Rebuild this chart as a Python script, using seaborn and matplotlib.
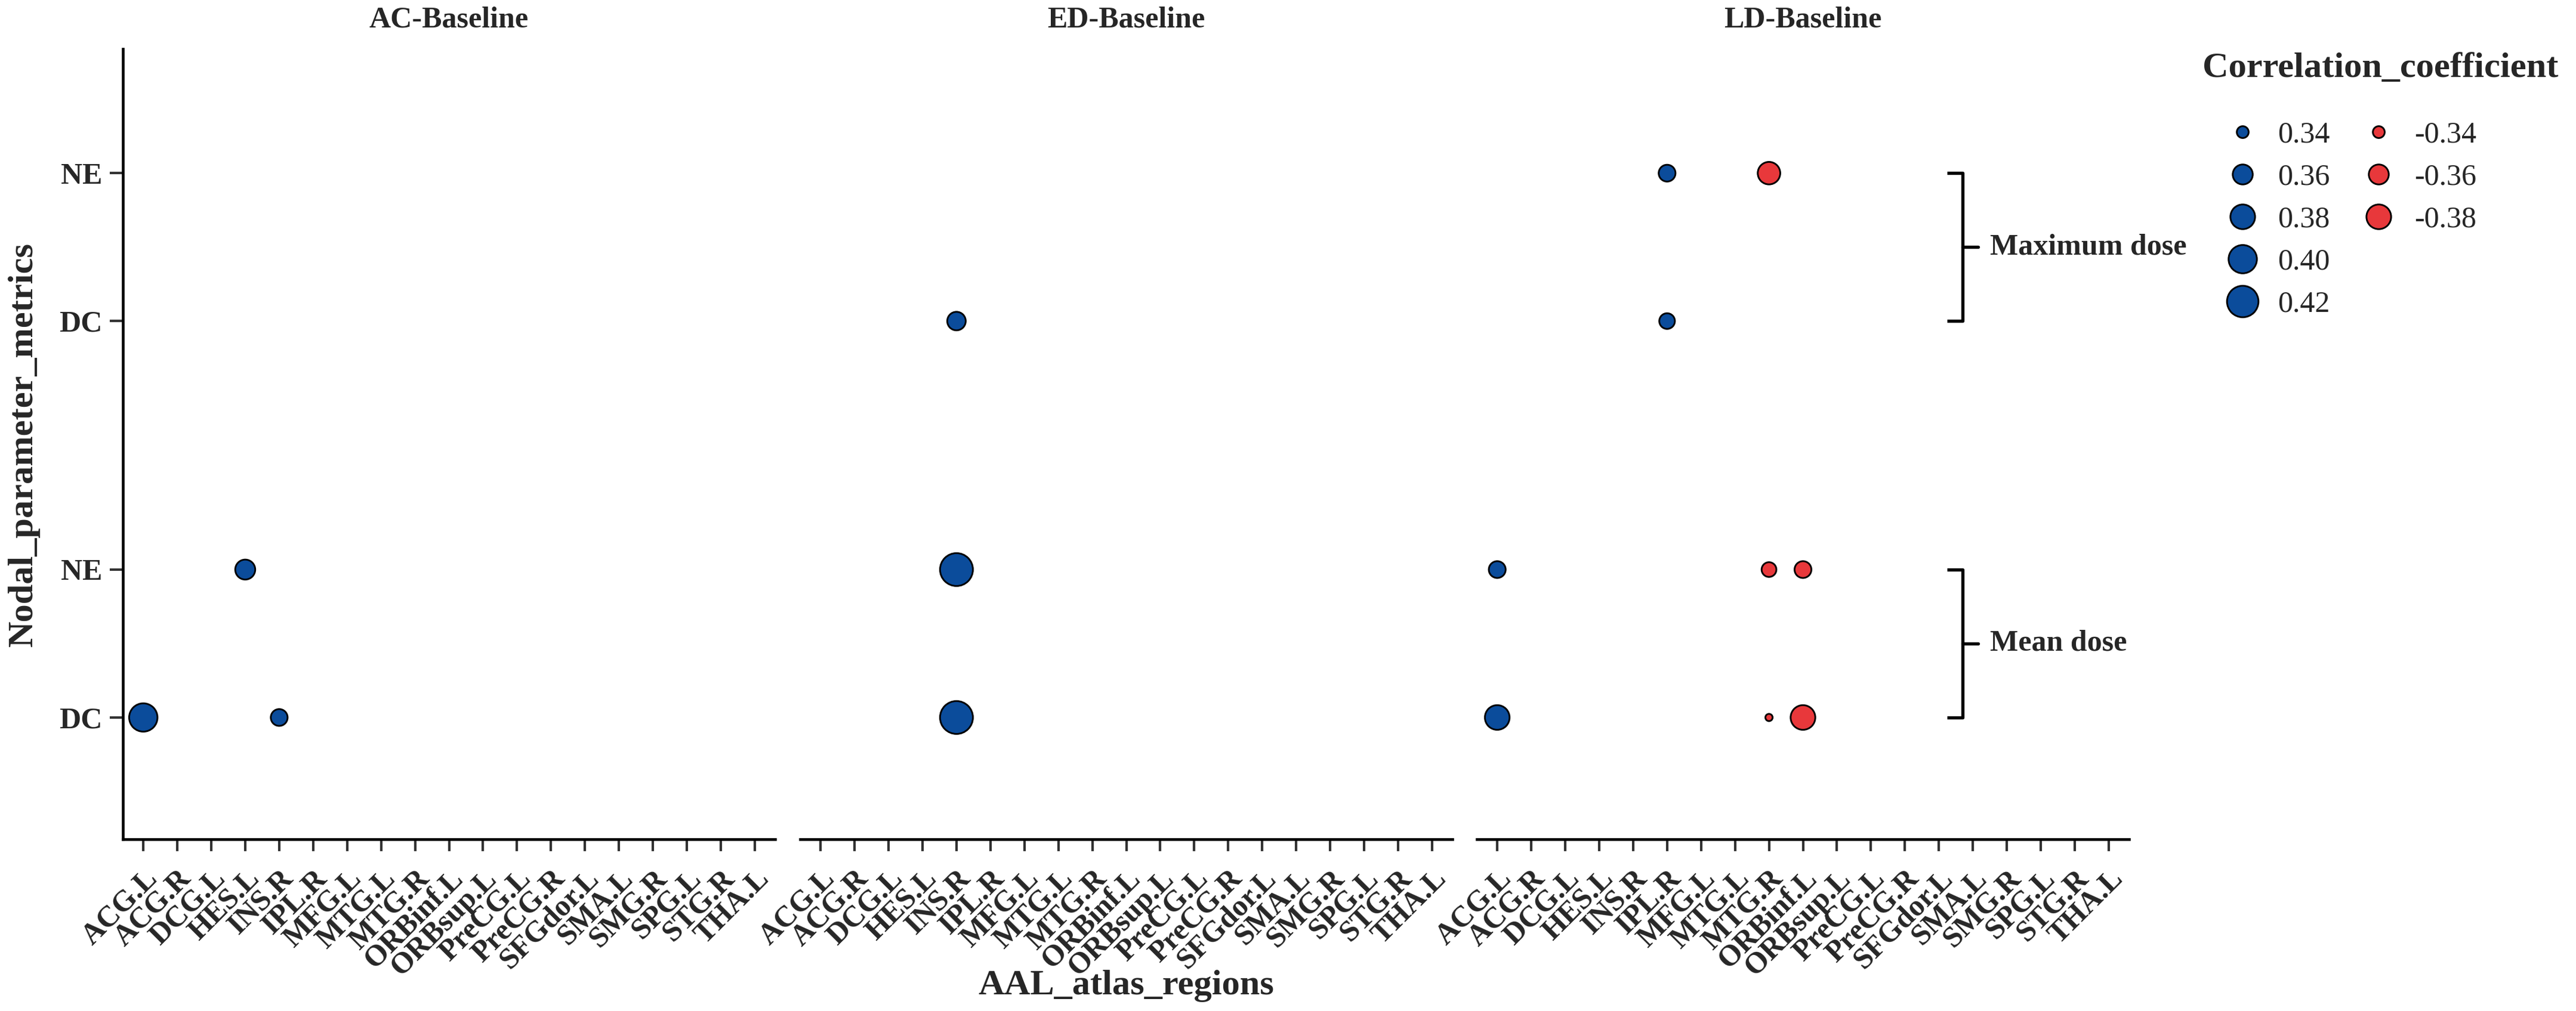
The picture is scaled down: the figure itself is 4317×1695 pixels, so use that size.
import numpy as np
import pandas as pd
import matplotlib
matplotlib.use("Agg")
import matplotlib.pyplot as plt
import matplotlib.transforms as mtransforms
from matplotlib.lines import Line2D
import seaborn as sns

# Datos del gráfico
paneles = ["AC-Baseline", "ED-Baseline", "LD-Baseline"]
regiones = ["ACG.L", "ACG.R", "DCG.L", "HES.L", "INS.R", "IPL.R", "MFG.L", "MTG.L",
            "MTG.R", "ORBinf.L", "ORBsup.L", "PreCG.L", "PreCG.R", "SFGdor.L",
            "SMA.L", "SMG.R", "SPG.L", "STG.R", "THA.L"]
metricas = ["DC", "NE"]
dosis = ["Mean dose", "Maximum dose"]

pt_panel = ["AC-Baseline"] * 3 + ["ED-Baseline"] * 3 + ["LD-Baseline"] * 9
pt_region = ["ACG.L", "HES.L", "INS.R",
             "INS.R", "INS.R", "INS.R",
             "ACG.L", "ACG.L", "IPL.R", "IPL.R", "MTG.R", "MTG.R", "MTG.R",
             "ORBinf.L", "ORBinf.L"]
pt_metrica = ["DC", "NE", "DC",
              "DC", "NE", "DC",
              "NE", "DC", "NE", "DC", "NE", "NE", "DC", "NE", "DC"]
pt_dosis = ["Mean dose", "Mean dose", "Mean dose",
            "Maximum dose", "Mean dose", "Mean dose",
            "Mean dose", "Mean dose", "Maximum dose", "Maximum dose",
            "Maximum dose", "Mean dose", "Mean dose", "Mean dose", "Mean dose"]
pt_r = [0.40, 0.36, 0.35,
        0.355, 0.43, 0.43,
        0.35, 0.38, 0.35, 0.347, -0.37, -0.345, -0.337, -0.35, -0.38]

leyenda_pos = [0.34, 0.36, 0.38, 0.40, 0.42]
leyenda_neg = [-0.34, -0.36, -0.38]

# Estilo
AZUL = "#0B4C9B"
ROJO = "#E8383B"
LW_BORDE = 0.7
desplaz_dosis = {"Mean dose": 0.0, "Maximum dose": 2.68}

sns.set_style("ticks")
plt.rcParams["font.family"] = ["Liberation Serif", "DejaVu Serif"]


def area_marcador(v, vmin=0.337, vmax=0.43):
    # diametro en px (300 dpi) escalado por raiz del valor absoluto
    t = np.clip((abs(v) - vmin) / (vmax - vmin), 0, None)
    d_px = 15 + 43 * np.sqrt(t)
    d_pt = d_px * 72 / 300 - LW_BORDE
    return d_pt ** 2


df = pd.DataFrame({
    "panel": pt_panel,
    "region": pt_region,
    "metrica": pt_metrica,
    "dosis": pt_dosis,
    "r": pt_r,
})
df["x"] = df["region"].map({r: i for i, r in enumerate(regiones)})
df["y"] = df["metrica"].map({m: i for i, m in enumerate(metricas)}) + df["dosis"].map(desplaz_dosis)
df["abs_r"] = df["r"].abs()
df["signo"] = np.where(df["r"] > 0, "pos", "neg")
tamanos = {v: area_marcador(v) for v in df["abs_r"].unique()}

fig = plt.figure(figsize=(14.39, 5.65), dpi=300)
lefts = [0.04772, 0.31064, 0.57331]
ancho, abajo, alto = 0.2532, 0.16991, 0.78171
desplaza_tick = mtransforms.ScaledTranslation(8 / 300, 0, fig.dpi_scale_trans)

ejes = []
for i, (panel, left) in enumerate(zip(paneles, lefts)):
    ax = fig.add_axes([left, abajo, ancho, alto])
    sub = df[df["panel"] == panel]
    sns.scatterplot(data=sub, x="x", y="y", hue="signo", size="abs_r",
                    sizes=tamanos, palette={"pos": AZUL, "neg": ROJO},
                    edgecolor="black", linewidth=LW_BORDE, legend=False,
                    ax=ax, zorder=3, clip_on=False)
    ax.set_xlim(-0.6, len(regiones) - 0.4)
    ax.set_ylim(-0.823, 4.52)
    ax.set_xticks(range(len(regiones)))
    ax.set_xticklabels(regiones, rotation=45, ha="right", va="top",
                       rotation_mode="anchor", fontsize=12, fontweight="bold")
    for lab in ax.get_xticklabels():
        lab.set_transform(lab.get_transform() + desplaza_tick)
    ax.set_xlabel("")
    ax.set_ylabel("")
    fig.text(left + ancho / 2, 1 - 33 / 1695, panel, ha="center", va="center",
             fontsize=12, fontweight="bold")
    ax.tick_params(axis="x", length=4.8, width=1.0, color="#333333", pad=5.5)
    for s in ["top", "right"]:
        ax.spines[s].set_visible(False)
    ax.spines["bottom"].set_linewidth(1.1)
    ax.spines["bottom"].set_color("black")
    if i == 0:
        yt = [j + desplaz_dosis[d] for d in dosis for j in range(len(metricas))]
        ax.set_yticks(yt)
        ax.set_yticklabels(metricas * len(dosis), fontsize=12, fontweight="bold")
        ax.tick_params(axis="y", length=5.2, width=1.0, color="#333333", pad=3)
        ax.spines["left"].set_linewidth(1.1)
        ax.spines["left"].set_color("black")
    else:
        ax.spines["left"].set_visible(False)
        ax.set_yticks([])
    ejes.append(ax)

# Llaves de agrupación en el último panel
ax3 = ejes[2]
trans = mtransforms.blended_transform_factory(ax3.transAxes, ax3.transData)
xb, serif = 0.7447, 0.0238
for d in dosis:
    y0 = desplaz_dosis[d]
    y1 = y0 + len(metricas) - 1
    ym = (y0 + y1) / 2
    ax3.plot([xb - serif, xb, xb, xb - serif], [y1, y1, y0, y0], color="black",
             lw=1.3, transform=trans, clip_on=False, solid_capstyle="butt")
    ax3.plot([xb, xb + serif], [ym, ym], color="black", lw=1.3,
             transform=trans, clip_on=False)
    ax3.text(0.787, ym, d, transform=trans, ha="left", va="center",
             fontsize=12, fontweight="bold", clip_on=False)

# Títulos de ejes
centro_x = lefts[1] + ancho / 2
fig.text(centro_x, 1 - 1667 / 1695, "AAL_atlas_regions", ha="center", va="baseline",
         fontsize=14.5, fontweight="bold")
fig.text(40 / 4317, abajo + alto / 2, "Nodal_parameter_metrics", ha="center",
         va="center", rotation=90, fontsize=14.5, fontweight="bold")

# Leyenda
fig.text(3691 / 4317, 1 - 115 / 1695, "Correlation_coefficient", ha="left",
         va="center", fontsize=14.5, fontweight="bold")
handles, labels = [], []
for v in leyenda_pos:
    handles.append(Line2D([], [], ls="", marker="o", markerfacecolor=AZUL,
                          markeredgecolor="black", markeredgewidth=LW_BORDE,
                          markersize=np.sqrt(area_marcador(v))))
    labels.append(f"{v:.2f}")
for v in leyenda_neg:
    handles.append(Line2D([], [], ls="", marker="o", markerfacecolor=ROJO,
                          markeredgecolor="black", markeredgewidth=LW_BORDE,
                          markersize=np.sqrt(area_marcador(v))))
    labels.append(f"{v:.2f}")
for _ in range(len(leyenda_pos) - len(leyenda_neg)):
    handles.append(Line2D([], [], ls="", marker=""))
    labels.append("")

leg = fig.legend(handles, labels, loc="upper left",
                 bbox_to_anchor=(3695 / 4317, 1 - 178 / 1695), ncol=2,
                 frameon=False, fontsize=12, handlelength=1.5, handletextpad=0.45,
                 columnspacing=0.87, labelspacing=0.49, borderpad=0.0)

fig.savefig("out.png", dpi=300, facecolor="white")
